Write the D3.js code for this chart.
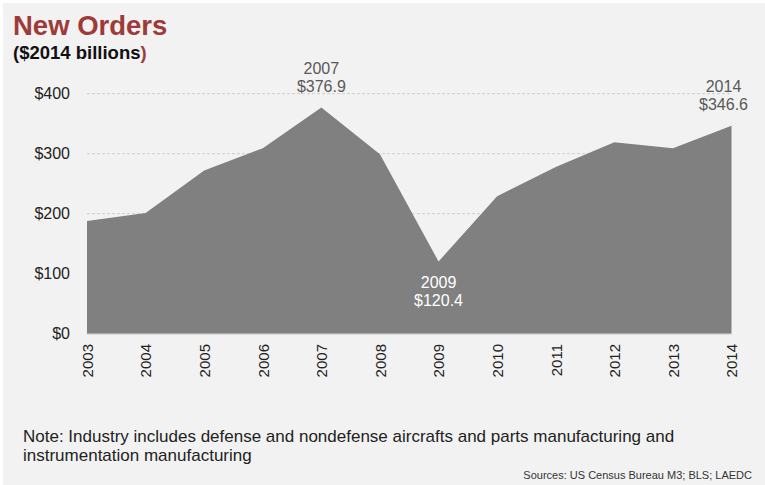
<!DOCTYPE html>
<html>
<head>
<meta charset="utf-8">
<script src="https://cdn.jsdelivr.net/npm/d3@7"></script>
<style>
  body { margin: 0; background: #fff; }
  svg { display: block; font-family: 'Liberation Sans', Arial, sans-serif; }
</style>
</head>
<body>
<svg id="chart" width="765" height="485"></svg>
<script>
// data ($2014 billions)
const years = ['2003', '2004', '2005', '2006', '2007', '2008', '2009', '2010', '2011', '2012', '2013', '2014']
const orders = [188, 201, 272, 309, 376.9, 299, 120.4, 229, 278, 319, 309, 346.6]
const yTicks = [0, 100, 200, 300, 400]
const callouts = [
  { year: '2007', label: '$376.9', where: 'above' },
  { year: '2009', label: '$120.4', where: 'below' },
  { year: '2014', label: '$346.6', where: 'above' }
]

const svg = d3.select('#chart')
const W = 765, H = 485

svg.append('rect').attr('x', 3).attr('y', 3).attr('width', W - 3).attr('height', H - 3).attr('fill', '#f2f2f2')

let x = d3.scalePoint().domain(years).range([87, 731.5])
let y = d3.scaleLinear().domain([0, 400]).range([333.7, 93.7])

// grid
svg.append('g').selectAll('line')
  .data(yTicks.filter(d => d > 0))
  .enter().append('line')
  .attr('x1', x(years[0])).attr('x2', x(years[years.length - 1]))
  .attr('y1', d => y(d)).attr('y2', d => y(d))
  .attr('stroke', '#cdcdcd').attr('stroke-width', 1).attr('stroke-dasharray', '3,2')

// area
let area = d3.area()
  .x((d, i) => x(years[i]))
  .y0(y(0))
  .y1(d => y(d))
svg.append('path').datum(orders)
  .attr('d', area)
  .attr('fill', '#808080')

svg.append('line')
  .attr('x1', x(years[0])).attr('x2', x(years[years.length - 1]))
  .attr('y1', y(0) + 0.5).attr('y2', y(0) + 0.5)
  .attr('stroke', '#d0d0d0')

// y axis (labels only)
let yAxis = d3.axisLeft(y).tickValues(yTicks).tickSize(0).tickPadding(0).tickFormat(d => '$' + d)
let gy = svg.append('g').attr('transform', 'translate(70,0)').call(yAxis)
gy.select('.domain').remove()
gy.selectAll('text').attr('font-size', 16).attr('fill', '#222').attr('font-family', 'Liberation Sans, Arial, sans-serif')

// x axis, rotated labels
let xAxis = d3.axisBottom(x).tickSize(0).tickPadding(0)
let gx = svg.append('g').attr('transform', 'translate(0,' + 344 + ')').call(xAxis)
gx.select('.domain').remove()
gx.selectAll('text')
  .attr('font-size', 15).attr('fill', '#222').attr('font-family', 'Liberation Sans, Arial, sans-serif')
  .attr('text-anchor', 'end')
  .attr('transform', 'rotate(-90)')
  .attr('x', 0).attr('y', 0).attr('dy', '0.36em')

// callouts
callouts.forEach(c => {
  let v = orders[years.indexOf(c.year)]
  let cx = x(c.year) - (c.year === '2014' ? 8 : 0)
  let top = c.where === 'above' ? y(v) - 34 : y(v) + 27
  let t = svg.append('text')
    .attr('text-anchor', 'middle')
    .attr('font-size', 16)
    .attr('fill', c.where === 'above' ? '#595959' : '#ffffff')
  t.append('tspan').attr('x', cx).attr('y', top).text(c.year)
  t.append('tspan').attr('x', cx).attr('y', top + 18).text(c.label)
})

// titles
svg.append('text').attr('x', 13).attr('y', 35)
  .attr('font-size', 27.5).attr('font-weight', 'bold').attr('fill', '#9e3a38')
  .text('New Orders')
let sub = svg.append('text').attr('x', 13).attr('y', 59)
  .attr('font-size', 18.5).attr('font-weight', 'bold').attr('fill', '#111')
sub.append('tspan').text('($2014 billions')
sub.append('tspan').attr('fill', '#9e3a38').text(')')

// footer
svg.append('text').attr('x', 23).attr('y', 442).attr('font-size', 17).attr('fill', '#222')
  .text('Note: Industry includes defense and nondefense aircrafts and parts manufacturing and')
svg.append('text').attr('x', 23).attr('y', 461).attr('font-size', 17).attr('fill', '#222')
  .text('instrumentation manufacturing')
svg.append('text').attr('x', 752).attr('y', 479).attr('text-anchor', 'end')
  .attr('font-size', 11).attr('fill', '#333')
  .text('Sources: US Census Bureau M3; BLS; LAEDC')
</script>
</body>
</html>
